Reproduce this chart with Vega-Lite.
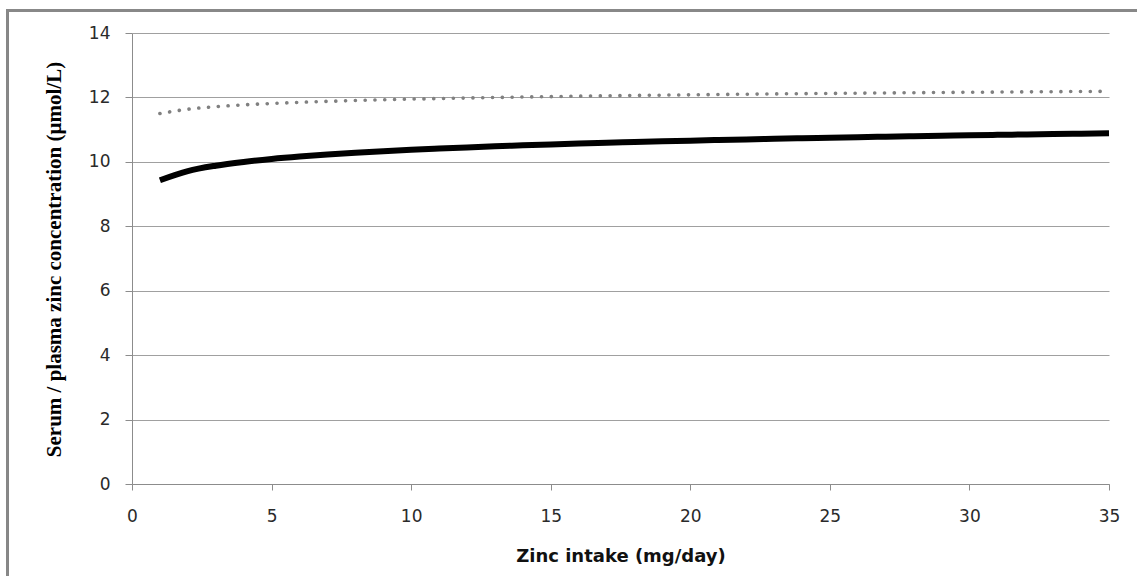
{
  "$schema": "https://vega.github.io/schema/vega-lite/v6.json",
  "autosize": {"type": "none"},
  "width": 977,
  "height": 451,
  "padding": {"left": 132, "top": 33, "right": 30, "bottom": 101},
  "background": "white",
  "config": {"view": {"stroke": null}},
  "datasets": {
    "curves": [
      {"intake": 1, "solid": 9.43, "dotted": 11.5},
      {"intake": 2, "solid": 9.714, "dotted": 11.634},
      {"intake": 3, "solid": 9.881, "dotted": 11.713},
      {"intake": 4, "solid": 9.998, "dotted": 11.769},
      {"intake": 5, "solid": 10.09, "dotted": 11.812},
      {"intake": 6, "solid": 10.165, "dotted": 11.848},
      {"intake": 7, "solid": 10.228, "dotted": 11.878},
      {"intake": 8, "solid": 10.282, "dotted": 11.903},
      {"intake": 9, "solid": 10.331, "dotted": 11.926},
      {"intake": 10, "solid": 10.374, "dotted": 11.947},
      {"intake": 11, "solid": 10.413, "dotted": 11.965},
      {"intake": 12, "solid": 10.449, "dotted": 11.982},
      {"intake": 13, "solid": 10.482, "dotted": 11.998},
      {"intake": 14, "solid": 10.512, "dotted": 12.012},
      {"intake": 15, "solid": 10.54, "dotted": 12.025},
      {"intake": 16, "solid": 10.567, "dotted": 12.038},
      {"intake": 17, "solid": 10.592, "dotted": 12.05},
      {"intake": 18, "solid": 10.615, "dotted": 12.061},
      {"intake": 19, "solid": 10.637, "dotted": 12.071},
      {"intake": 20, "solid": 10.658, "dotted": 12.081},
      {"intake": 21, "solid": 10.678, "dotted": 12.091},
      {"intake": 22, "solid": 10.697, "dotted": 12.1},
      {"intake": 23, "solid": 10.715, "dotted": 12.108},
      {"intake": 24, "solid": 10.733, "dotted": 12.117},
      {"intake": 25, "solid": 10.75, "dotted": 12.124},
      {"intake": 26, "solid": 10.766, "dotted": 12.132},
      {"intake": 27, "solid": 10.781, "dotted": 12.139},
      {"intake": 28, "solid": 10.796, "dotted": 12.146},
      {"intake": 29, "solid": 10.81, "dotted": 12.153},
      {"intake": 30, "solid": 10.824, "dotted": 12.16},
      {"intake": 31, "solid": 10.838, "dotted": 12.166},
      {"intake": 32, "solid": 10.851, "dotted": 12.172},
      {"intake": 33, "solid": 10.864, "dotted": 12.178},
      {"intake": 34, "solid": 10.876, "dotted": 12.184},
      {"intake": 35, "solid": 10.888, "dotted": 12.19}
    ]
  },
  "data": {"name": "curves"},
  "encoding": {
    "x": {
      "field": "intake",
      "type": "quantitative",
      "scale": {"domain": [0, 35], "nice": false, "zero": false},
      "axis": {
        "title": "Zinc intake (mg/day)",
        "values": [0, 5, 10, 15, 20, 25, 30, 35],
        "grid": false,
        "domainColor": "#8c8c8c",
        "tickColor": "#8c8c8c",
        "tickSize": 6,
        "labelFont": "DejaVu Sans",
        "labelFontSize": 17,
        "labelColor": "#2a2a2a",
        "labelBaseline": "alphabetic",
        "labelPadding": 31,
        "labelFlush": false,
        "titleFont": "DejaVu Sans",
        "titleFontSize": 18,
        "titleFontWeight": "bold",
        "titleColor": "#111111",
        "titleBaseline": "alphabetic",
        "titleX": 488.5,
        "titleY": 77
      }
    }
  },
  "layer": [
    {
      "mark": {"type": "rule", "stroke": "#888888", "strokeWidth": 2, "clip": false},
      "encoding": {
        "x": {"datum": -4.47, "type": "quantitative"},
        "y": {"datum": 14.72, "type": "quantitative"},
        "y2": {"datum": -2.85}
      }
    },
    {
      "mark": {"type": "rule", "stroke": "#888888", "strokeWidth": 2, "clip": false},
      "encoding": {
        "x": {"datum": -4.5, "type": "quantitative"},
        "x2": {"datum": 36.0},
        "y": {"datum": 14.69, "type": "quantitative"}
      }
    },
    {
      "mark": {"type": "line", "color": "#808080", "strokeWidth": 3.6, "strokeCap": "round", "strokeDash": [0.1, 9.7], "interpolate": "monotone"},
      "encoding": {
        "y": {
          "field": "dotted",
          "type": "quantitative",
          "scale": {"domain": [0, 14], "nice": false},
          "axis": {
            "title": "Serum / plasma zinc concentration (µmol/L)",
            "values": [0, 2, 4, 6, 8, 10, 12, 14],
            "grid": true,
            "gridColor": "#a0a0a0",
            "gridWidth": 1,
            "domainColor": "#8c8c8c",
            "tickColor": "#8c8c8c",
            "tickSize": 7,
            "labelFont": "DejaVu Sans",
            "labelFontSize": 17,
            "labelColor": "#2a2a2a",
            "labelPadding": 15,
            "labelFlush": false,
            "titleFont": "Liberation Serif",
            "titleFontSize": 21,
            "titleFontWeight": "bold",
            "titleColor": "#000000",
            "titleAngle": -90,
            "titleAlign": "center",
            "titleBaseline": "alphabetic",
            "titleX": -72,
            "titleY": 226
          }
        }
      }
    },
    {
      "mark": {"type": "line", "color": "#000000", "strokeWidth": 6, "interpolate": "monotone"},
      "encoding": {
        "y": {"field": "solid", "type": "quantitative"}
      }
    }
  ]
}
